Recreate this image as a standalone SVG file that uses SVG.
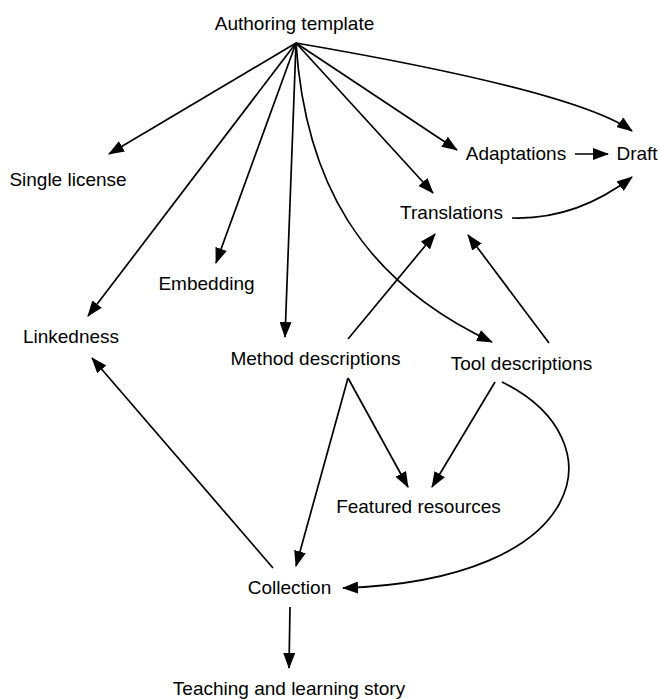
<svg xmlns="http://www.w3.org/2000/svg" width="660" height="699" viewBox="0 0 660 699">
  <style>
    .label { font-family: "Liberation Sans", Arial, Helvetica, sans-serif; font-size: 19px; fill: #000; text-anchor: middle; }
    .edge { fill: none; stroke: #000; stroke-width: 1.7; marker-end: url(#arrow); }
  </style>
  <defs>
    <marker id="arrow" markerUnits="userSpaceOnUse" markerWidth="16" markerHeight="12" viewBox="0 0 16 12" refX="15" refY="6" orient="auto">
      <path d="M0,0 L16,6 L0,12 z" fill="#000"/>
    </marker>
  </defs>
  <rect width="660" height="699" fill="#fff"/>

  <g id="connectors">
    <path class="edge" d="M296,43 L109,154"/>
    <path class="edge" d="M296,43 L88,316"/>
    <path class="edge" d="M296,43 L216,263"/>
    <path class="edge" d="M296,43 L285,337"/>
    <path class="edge" d="M296,43 L433,193"/>
    <path class="edge" d="M296,43 L457,150"/>
    <path class="edge" d="M296,43 Q576,91 632,131"/>
    <path class="edge" d="M296,43 C305,180 360,280 492,342"/>
    <path class="edge" d="M575,154 L608,154"/>
    <path class="edge" d="M512,218 Q576,220 632,177"/>
    <path class="edge" d="M348,339 L435,234"/>
    <path class="edge" d="M549,343 L468,235"/>
    <path class="edge" d="M348,378 L408,487"/>
    <path class="edge" d="M495,382 L432,487"/>
    <path class="edge" d="M348,378 L296,566"/>
    <path class="edge" d="M502,382 C620,440 590,580 343,588"/>
    <path class="edge" d="M273,568 L92,358"/>
    <path class="edge" d="M290,607 L289,668"/>
  </g>

  <g id="authoring-template"><text class="label" x="294.5" y="30">Authoring template</text></g>
  <g id="single-license"><text class="label" x="68" y="186">Single license</text></g>
  <g id="embedding"><text class="label" x="206.5" y="290">Embedding</text></g>
  <g id="linkedness"><text class="label" x="71" y="343">Linkedness</text></g>
  <g id="method-descriptions"><text class="label" x="315.5" y="365">Method descriptions</text></g>
  <g id="tool-descriptions"><text class="label" x="521.5" y="370">Tool descriptions</text></g>
  <g id="featured-resources"><text class="label" x="418.5" y="513">Featured resources</text></g>
  <g id="collection"><text class="label" x="289.5" y="594">Collection</text></g>
  <g id="teaching-story"><text class="label" x="289" y="695">Teaching and learning story</text></g>
  <g id="adaptations"><text class="label" x="516" y="160">Adaptations</text></g>
  <g id="draft"><text class="label" x="637" y="160">Draft</text></g>
  <g id="translations"><text class="label" x="451.5" y="219">Translations</text></g>
</svg>
